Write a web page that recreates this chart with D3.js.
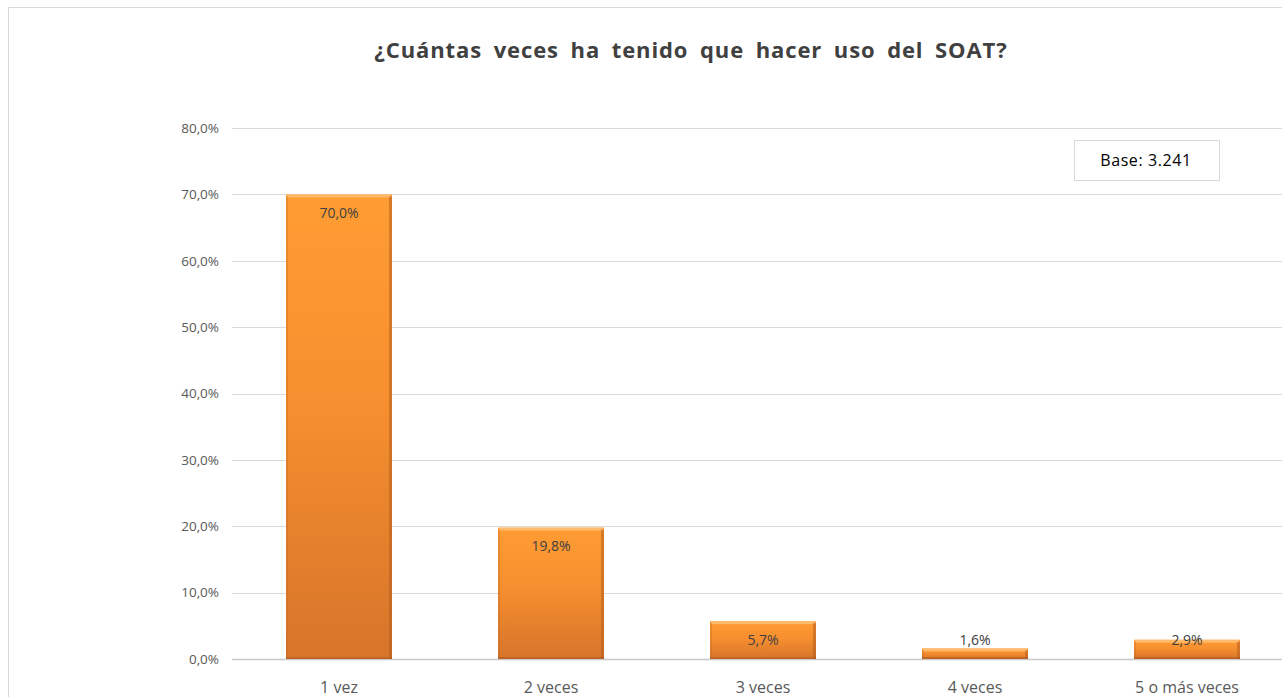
<!DOCTYPE html>
<html lang="es">
<head>
<meta charset="UTF-8">
<title>SOAT</title>
<style>
  body { margin: 0; background: #fff; }
  svg { display: block; font-family: "Open Sans", "Noto Sans", sans-serif; }
</style>
</head>
<body>
<div id="chart"></div>
<script src="https://cdnjs.cloudflare.com/ajax/libs/d3/7.8.2/d3.min.js"></script>
<script>
// data
var categories = ["1 vez", "2 veces", "3 veces", "4 veces", "5 o más veces"];
var values = [70.0, 19.8, 5.7, 1.6, 2.9];
var yTicks = [0, 10, 20, 30, 40, 50, 60, 70, 80];
var title = "¿Cuántas veces ha tenido que hacer uso del SOAT?";
var baseText = "Base: 3.241";

var width = 1282, height = 697;
var fmt = function(v) { return v.toFixed(1).replace(".", ",") + "%"; };

var svg = d3.select("#chart")
  .append("svg")
  .attr("width", width)
  .attr("height", height);

// bar gradient + bevel
var defs = svg.append("defs");
var grad = defs.append("linearGradient")
  .attr("id", "barGrad")
  .attr("x1", 0).attr("y1", 0).attr("x2", 0).attr("y2", 1);
grad.append("stop").attr("offset", "0%").attr("stop-color", "#ff9c33");
grad.append("stop").attr("offset", "45%").attr("stop-color", "#f68f2f");
grad.append("stop").attr("offset", "100%").attr("stop-color", "#d6742a");

// chart border
svg.append("rect")
  .attr("x", 8.5).attr("y", 7.5)
  .attr("width", width + 20).attr("height", height + 20)
  .attr("fill", "none")
  .attr("stroke", "#d9d9d9");

var x = d3.scaleBand()
  .domain(categories)
  .range([233, 1293])
  .paddingInner(0.5)
  .paddingOuter(0.25);

var y = d3.scaleLinear()
  .domain([0, 80])
  .range([659, 128]);

// gridlines
svg.append("g")
  .selectAll("line")
  .data(yTicks)
  .enter()
  .append("line")
  .attr("x1", 232).attr("x2", width)
  .attr("y1", function(d) { return Math.round(y(d)) + 0.5; })
  .attr("y2", function(d) { return Math.round(y(d)) + 0.5; })
  .attr("stroke", function(d) { return d === 0 ? "#c8c8c8" : "#d9d9d9"; })
  .attr("stroke-width", function(d) { return d === 0 ? 1.5 : 1; });

// y axis labels
var yAxis = d3.axisLeft(y)
  .tickValues(yTicks)
  .tickSize(0)
  .tickPadding(0)
  .tickFormat(fmt);
svg.append("g")
  .attr("transform", "translate(219,0)")
  .call(yAxis)
  .call(function(g) { g.select(".domain").remove(); })
  .selectAll("text")
  .attr("fill", "#595959")
  .attr("font-size", 13.5)
  .attr("font-family", "'Open Sans', sans-serif");

// x axis labels
var xAxis = d3.axisBottom(x).tickSize(0).tickPadding(0);
svg.append("g")
  .attr("transform", "translate(0,682)")
  .call(xAxis)
  .call(function(g) { g.select(".domain").remove(); })
  .selectAll("text")
  .attr("fill", "#595959")
  .attr("font-size", 16)
  .attr("font-family", "'Open Sans', sans-serif");

// bars
var bar = svg.append("g")
  .selectAll("g")
  .data(values)
  .enter()
  .append("g");

bar.append("rect")
  .attr("x", function(d, i) { return x(categories[i]); })
  .attr("y", function(d) { return y(d); })
  .attr("width", x.bandwidth())
  .attr("height", function(d) { return y(0) - y(d); })
  .attr("fill", "url(#barGrad)");

// bevel: light top, dark sides/bottom
bar.append("rect")
  .attr("x", function(d, i) { return x(categories[i]) + 1; })
  .attr("y", function(d) { return y(d); })
  .attr("width", x.bandwidth() - 2)
  .attr("height", function(d) { return Math.min(3, y(0) - y(d)); })
  .attr("fill", "#ffc27a")
  .attr("opacity", 0.8);

bar.append("rect")
  .attr("x", function(d, i) { return x(categories[i]) + x.bandwidth() - 3; })
  .attr("y", function(d) { return y(d) + 2; })
  .attr("width", 3)
  .attr("height", function(d) { return Math.max(0, y(0) - y(d) - 2); })
  .attr("fill", "#b45f20")
  .attr("opacity", 0.55);

bar.append("rect")
  .attr("x", function(d, i) { return x(categories[i]); })
  .attr("y", function(d) { return y(d) + 2; })
  .attr("width", 2)
  .attr("height", function(d) { return Math.max(0, y(0) - y(d) - 2); })
  .attr("fill", "#c86a24")
  .attr("opacity", 0.35);

bar.append("rect")
  .attr("x", function(d, i) { return x(categories[i]); })
  .attr("y", function(d) { return y(0) - 2; })
  .attr("width", x.bandwidth())
  .attr("height", function(d) { return Math.min(2, y(0) - y(d)); })
  .attr("fill", "#a9561c")
  .attr("opacity", 0.5);

// value labels
bar.append("text")
  .attr("x", function(d, i) { return x(categories[i]) + x.bandwidth() / 2; })
  .attr("y", function(d) { return Math.min(y(d) + 19, y(0) - 19); })
  .attr("dy", "0.35em")
  .attr("text-anchor", "middle")
  .attr("font-size", 14)
  .attr("fill", "#404040")
  .text(fmt);

// title
svg.append("text")
  .attr("x", 691)
  .attr("y", 58)
  .attr("text-anchor", "middle")
  .attr("font-size", 22)
  .attr("font-weight", "bold")
  .attr("letter-spacing", 0.9)
  .attr("word-spacing", 5)
  .attr("fill", "#404040")
  .text(title);

// base box
svg.append("rect")
  .attr("x", 1074.5).attr("y", 140.5)
  .attr("width", 145).attr("height", 40)
  .attr("fill", "#fff")
  .attr("stroke", "#d9d9d9");
svg.append("text")
  .attr("x", 1146)
  .attr("y", 160)
  .attr("dy", "0.35em")
  .attr("text-anchor", "middle")
  .attr("font-size", 16)
  .attr("letter-spacing", 0.6)
  .attr("fill", "#000")
  .text(baseText);
</script>
</body>
</html>
